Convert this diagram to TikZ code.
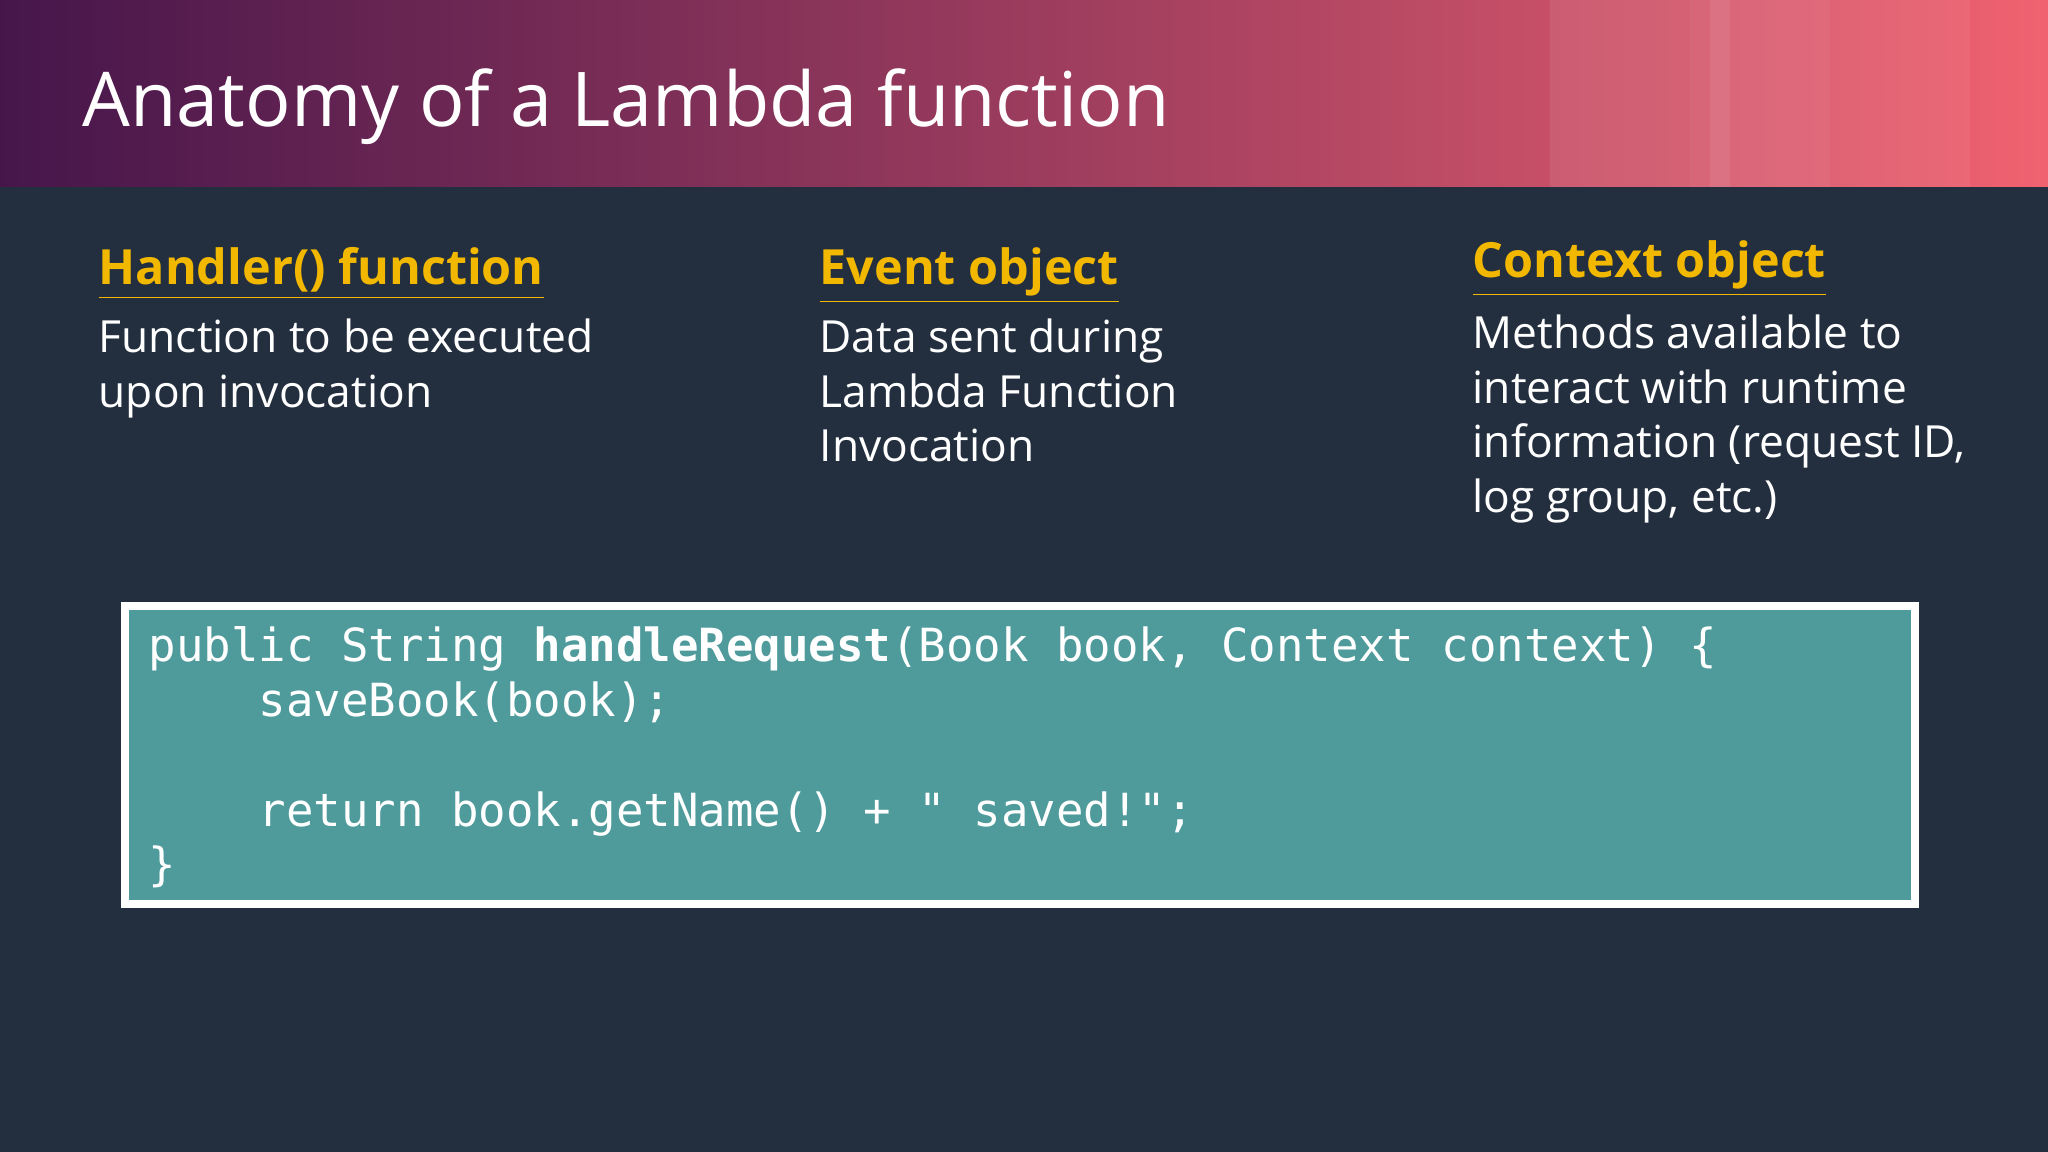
\documentclass[tikz,border=0pt]{standalone}
\usepackage{fontspec}
\setmainfont{Open Sans}
\setmonofont{DejaVu Sans Mono}
\definecolor{bg}{HTML}{232F3E}
\definecolor{hd}{HTML}{F2B800}
\definecolor{teal}{HTML}{4F9A9B}
\begin{document}
\begin{tikzpicture}[x=1cm,y=1cm,
  head/.style={anchor=base west,text=hd,font=\fontsize{13.8pt}{17pt}\selectfont\bfseries,inner sep=0},
  body/.style={anchor=north west,text=white,align=left,font=\fontsize{12.6pt}{15.6pt}\selectfont,inner sep=0}]
\fill[bg] (0,0) rectangle (20.48,11.52);
\shade[left color={rgb,255:red,70;green,22;blue,75},middle color={rgb,255:red,140;green,0;blue,95},right color={rgb,255:red,240;green,98;blue,112}] (0,9.65) rectangle (20.48,11.52);
\fill[white,opacity=0.08] (15.5,9.65) rectangle (16.9,11.52);
\fill[white,opacity=0.1] (16.9,9.65) rectangle (18.3,11.52);
\fill[white,opacity=0.08] (17.1,9.65) rectangle (17.3,11.52);
\fill[white,opacity=0.06] (18.3,9.65) rectangle (19.7,11.52);
\node[anchor=base west,text=white,font=\fontsize{21.5pt}{26pt}\selectfont,inner sep=0] (title) at (0.82,10.25) {Anatomy of a Lambda function};
\node[head] (h1) at (0.98,8.67) {\underline{Handler() function}};
\node[head] (h2) at (8.19,8.67) {\underline{Event object}};
\node[head] (h3) at (14.72,8.74) {\underline{Context object}};
\node[body] (b1) at (0.98,8.34) {Function to be executed\\upon invocation};
\node[body] (b2) at (8.19,8.34) {Data sent during\\Lambda Function\\Invocation};
\node[body] (b3) at (14.72,8.38) {Methods available to\\interact with runtime\\information (request ID,\\log group, etc.)};
\draw[white,line width=2.5pt,fill=teal] (1.25,2.48) rectangle (19.15,5.46) node[pos=0,inner sep=0] (box) {};
\node[anchor=north west,text=white,align=left,inner sep=0,font=\ttfamily\fontsize{13pt}{15.6pt}\selectfont] (code) at (1.48,5.26)
{public String \textbf{handleRequest}(Book book, Context context) \{\\
\ \ \ \ saveBook(book);\\
\strut\\
\ \ \ \ return book.getName() + " saved!";\\
\}};
\end{tikzpicture}
\end{document}
